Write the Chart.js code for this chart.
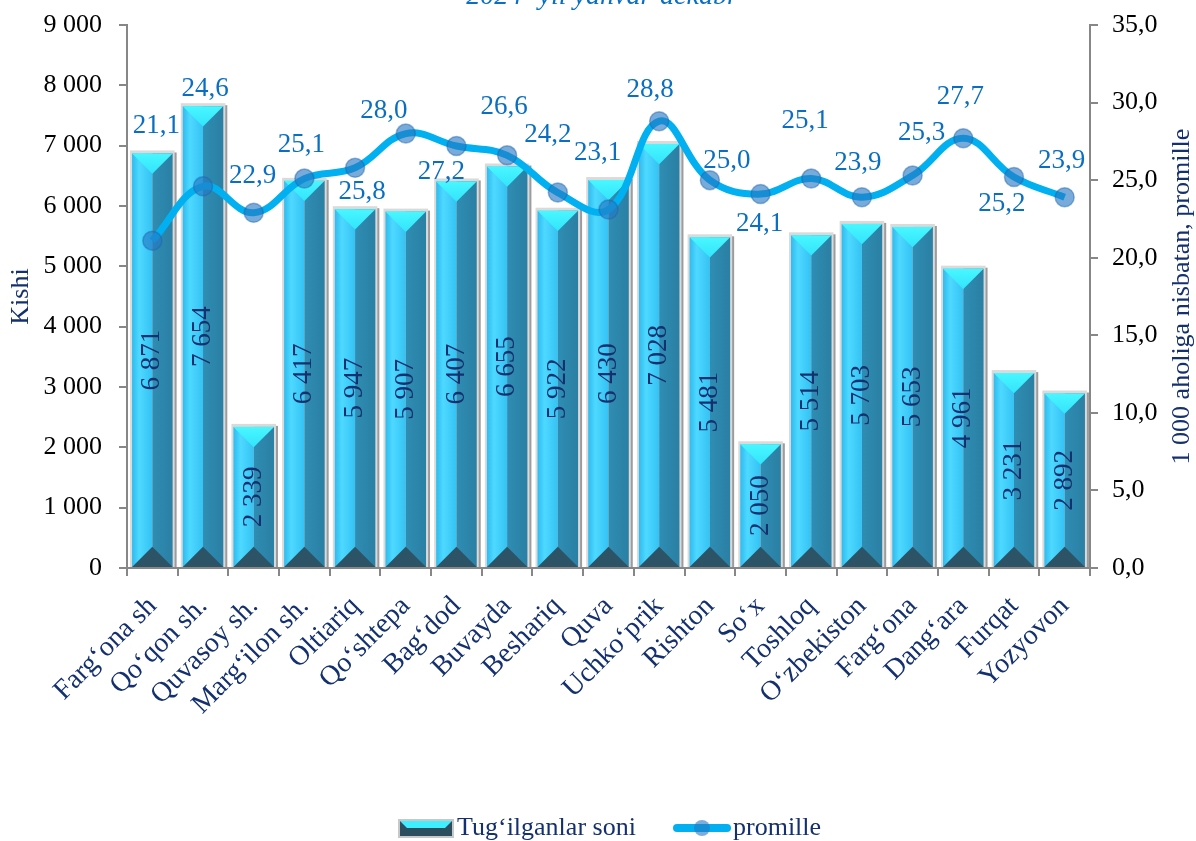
<!DOCTYPE html>
<html lang="uz">
<head>
<meta charset="UTF-8">
<title>Tug‘ilganlar soni, 2024</title>
<script src="https://cdn.jsdelivr.net/npm/chart.js"></script>
<style>
  html, body { margin: 0; padding: 0; background: #fff; }
  canvas { display: block; }
</style>
</head>
<body>
<canvas id="birthChart" width="1196" height="841"></canvas>
<script>
// --- data ---
const districts = ['Farg‘ona sh', 'Qo‘qon sh.', 'Quvasoy sh.', 'Marg‘ilon sh.', 'Oltiariq', 'Qo‘shtepa',
  'Bag‘dod', 'Buvayda', 'Beshariq', 'Quva', 'Uchko‘prik', 'Rishton', 'So‘x', 'Toshloq',
  'O‘zbekiston', 'Farg‘ona', 'Dang‘ara', 'Furqat', 'Yozyovon'];
const births = [6871, 7654, 2339, 6417, 5947, 5907, 6407, 6655, 5922, 6430, 7028, 5481, 2050, 5514,
  5703, 5653, 4961, 3231, 2892];
const perMille = [21.1, 24.6, 22.9, 25.1, 25.8, 28.0, 27.2, 26.6, 24.2, 23.1, 28.8, 25.0, 24.1, 25.1,
  23.9, 25.3, 27.7, 25.2, 23.9];
const countAxis = { max: 9000, step: 1000 };
const rateAxis = { max: 35, step: 5 };
const seriesNames = ['Tug‘ilganlar soni', 'promille'];
const periodTitle = '2024- yil yanvar-dekabr';
const countTitle = 'Kishi';
const rateTitle = '1 000 aholiga nisbatan, promille';

// --- styles ---
const SERIF = "'Liberation Serif', 'Times New Roman', serif";
const NAVY = '#14306e';
const LABEL_BLUE = '#0a6fc2';
const AXIS_GRAY = '#878787';

// where each promille label sits relative to its point (px)
const rateLabelShift = [[4, -115], [2, -97], [-1, -37], [-3, -34], [7, 24], [-22, -23], [-15, 26],
  [-3, -48], [-10, -58], [-11, -57], [-9, -31], [17, -19], [-1, 30], [-6, -58], [-4, -34],
  [9, -43], [-3, -41], [-12, 27], [-3, -36]];

const fmtThousands = v => String(v).replace(/\B(?=(\d{3})+(?!\d))/g, ' ');
const fmtDecimal = v => Number(v).toFixed(1).replace('.', ',');

function drawBevelBar(ctx, x, y, base, width) {
  const x0 = x - width / 2, x1 = x + width / 2, h = base - y;
  const d = Math.min(width / 2, h / 2);
  // shadow + frame
  ctx.fillStyle = '#9c9c9c';
  ctx.fillRect(x0 + 1, y - 1, width + 3, h + 1);
  ctx.fillStyle = '#dadada';
  ctx.fillRect(x0 - 2, y - 3, width + 4, h + 3);
  // left face
  let g = ctx.createLinearGradient(x0, 0, x, 0);
  g.addColorStop(0, '#2fbbee');
  g.addColorStop(0.35, '#4dd9ff');
  g.addColorStop(1, '#35c2f3');
  ctx.fillStyle = g;
  ctx.fillRect(x0, y, width / 2, h);
  // right face
  g = ctx.createLinearGradient(x, 0, x1, 0);
  g.addColorStop(0, '#2f8db3');
  g.addColorStop(1, '#2a7fa4');
  ctx.fillStyle = g;
  ctx.fillRect(x, y, width / 2, h);
  // top bevel
  g = ctx.createLinearGradient(0, y, 0, y + d);
  g.addColorStop(0, '#48f7ff');
  g.addColorStop(1, '#33e4fb');
  ctx.fillStyle = g;
  ctx.beginPath();
  ctx.moveTo(x0, y); ctx.lineTo(x1, y); ctx.lineTo(x, y + d); ctx.closePath();
  ctx.fill();
  // bottom bevel
  ctx.fillStyle = '#2d5466';
  ctx.beginPath();
  ctx.moveTo(x0, base); ctx.lineTo(x1, base); ctx.lineTo(x, base - d); ctx.closePath();
  ctx.fill();
}

const bevelBars = {
  id: 'bevelBars',
  afterDatasetDraw(chart, args) {
    if (args.index !== 0) return;
    const ctx = chart.ctx;
    ctx.save();
    args.meta.data.forEach((bar, i) => {
      const { x, y, base, width } = bar.getProps(['x', 'y', 'base', 'width'], true);
      drawBevelBar(ctx, x, y, base, width);
      ctx.save();
      ctx.translate(x, (y + base) / 2);
      ctx.rotate(-Math.PI / 2);
      ctx.font = '27px ' + SERIF;
      ctx.fillStyle = NAVY;
      ctx.textAlign = 'center';
      ctx.textBaseline = 'middle';
      ctx.fillText(fmtThousands(births[i]), 0, 0);
      ctx.restore();
    });
    ctx.restore();
  }
};

const extras = {
  id: 'extras',
  afterDatasetsDraw(chart) {
    const ctx = chart.ctx;
    const meta = chart.getDatasetMeta(1);
    ctx.save();
    ctx.font = '27px ' + SERIF;
    ctx.fillStyle = LABEL_BLUE;
    ctx.textAlign = 'center';
    ctx.textBaseline = 'middle';
    meta.data.forEach((pt, i) => {
      const [dx, dy] = rateLabelShift[i];
      ctx.fillText(fmtDecimal(perMille[i]), pt.x + dx, pt.y + dy);
    });
    ctx.restore();
  },
  afterDraw(chart) {
    const ctx = chart.ctx;
    const area = chart.chartArea;
    ctx.save();
    // period title, cut by the top edge like the original
    ctx.font = 'italic 28px ' + SERIF;
    ctx.fillStyle = LABEL_BLUE;
    ctx.textAlign = 'center';
    ctx.textBaseline = 'alphabetic';
    ctx.fillText(periodTitle, 602, 4);

    // right axis title, reads bottom to top
    ctx.save();
    ctx.translate(1182, (area.top + area.bottom) / 2);
    ctx.rotate(-Math.PI / 2);
    ctx.font = '26px ' + SERIF;
    ctx.fillStyle = NAVY;
    ctx.textBaseline = 'middle';
    ctx.textAlign = 'center';
    ctx.fillText(rateTitle, 0, 0);
    ctx.restore();

    // legend
    const ly = 828;
    ctx.font = '26px ' + SERIF;
    ctx.textAlign = 'left';
    ctx.textBaseline = 'alphabetic';
    // bar key
    ctx.fillStyle = '#c8c8c8';
    ctx.fillRect(398, 819, 56, 19);
    ctx.fillStyle = '#2d4e5e';
    ctx.fillRect(400, 821, 52, 15);
    ctx.fillStyle = '#3ef0ff';
    ctx.beginPath();
    ctx.moveTo(400, 821); ctx.lineTo(452, 821); ctx.lineTo(445, 828); ctx.lineTo(407, 828); ctx.closePath();
    ctx.fill();
    ctx.fillStyle = NAVY;
    ctx.fillText(seriesNames[0], 457, 835);
    // line key
    ctx.strokeStyle = '#00b0f0';
    ctx.lineWidth = 8;
    ctx.lineCap = 'round';
    ctx.beginPath();
    ctx.moveTo(677, ly); ctx.lineTo(727, ly);
    ctx.stroke();
    ctx.fillStyle = 'rgba(37,120,196,0.6)';
    ctx.beginPath();
    ctx.arc(702, ly, 8, 0, Math.PI * 2);
    ctx.fill();
    ctx.fillStyle = NAVY;
    ctx.fillText(seriesNames[1], 733, 835);
    ctx.restore();
  }
};

// fixed box sizes so the plot area lands where the original has it
const fixY = w => s => { s.width = w; s.paddingTop = 0; s.paddingBottom = 0; };

const ctx = document.getElementById('birthChart').getContext('2d');
const chart = new Chart(ctx, {
  data: {
    labels: districts,
    datasets: [{
      type: 'bar',
      label: seriesNames[0],
      data: births,
      yAxisID: 'y',
      backgroundColor: 'rgba(0,0,0,0)',
      borderWidth: 0,
      barPercentage: 0.8,
      categoryPercentage: 1.0,
      order: 2
    }, {
      type: 'line',
      label: seriesNames[1],
      data: perMille,
      yAxisID: 'y1',
      borderColor: '#00b0f0',
      borderWidth: 7,
      tension: 0.4,
      pointRadius: 9.5,
      pointBackgroundColor: 'rgba(37,120,196,0.62)',
      pointBorderColor: 'rgba(30,100,170,0.45)',
      pointBorderWidth: 1.5,
      fill: false,
      order: 1
    }]
  },
  options: {
    responsive: false,
    animation: false,
    devicePixelRatio: 1,
    layout: { padding: { top: 25, left: 0, right: 0, bottom: 0 } },
    plugins: {
      legend: { display: false },
      tooltip: { enabled: false }
    },
    scales: {
      x: {
        offset: true,
        grid: { drawOnChartArea: false, offset: true, tickLength: 8, color: AXIS_GRAY, lineWidth: 2 },
        border: { color: AXIS_GRAY, width: 2 },
        ticks: {
          autoSkip: false, minRotation: 45, maxRotation: 45, padding: 14,
          color: NAVY, font: { family: SERIF, size: 28 }
        },
        afterFit: s => { s.height = 273; s.paddingLeft = 0; s.paddingRight = 0; }
      },
      y: {
        position: 'left',
        min: 0, max: countAxis.max,
        grid: { drawOnChartArea: false, tickLength: 8, color: AXIS_GRAY, lineWidth: 2 },
        border: { color: AXIS_GRAY, width: 2 },
        ticks: {
          stepSize: countAxis.step, padding: 17, color: '#000',
          font: { family: SERIF, size: 26 },
          callback: v => fmtThousands(v)
        },
        title: {
          display: true, text: countTitle, color: NAVY,
          font: { family: SERIF, size: 26 }, padding: { top: 6, bottom: 0 }
        },
        afterFit: fixY(127)
      },
      y1: {
        position: 'right',
        min: 0, max: rateAxis.max,
        grid: { drawOnChartArea: false, tickLength: 8, color: AXIS_GRAY, lineWidth: 2 },
        border: { color: AXIS_GRAY, width: 2 },
        ticks: {
          stepSize: rateAxis.step, padding: 14, color: '#000',
          font: { family: SERIF, size: 26 },
          callback: v => fmtDecimal(v)
        },
        afterFit: fixY(106)
      }
    }
  },
  plugins: [bevelBars, extras]
});
</script>
</body>
</html>
